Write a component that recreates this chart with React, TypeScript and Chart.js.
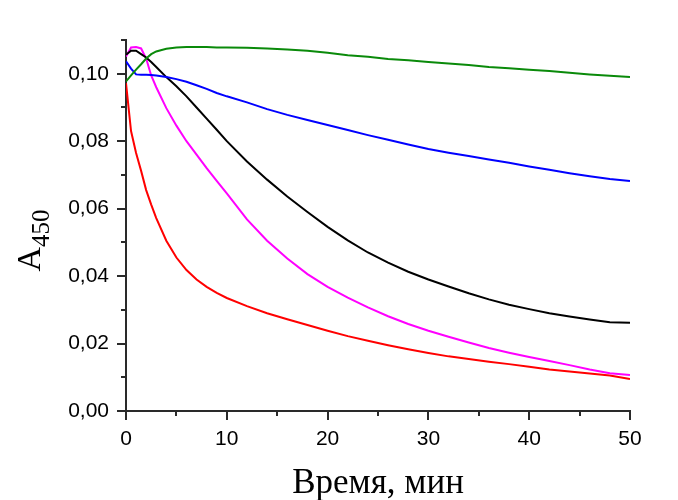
import React, { useEffect, useRef } from "react";
import { Chart, registerables } from "chart.js";

Chart.register(...registerables);

// Time points (min)
const times = [0, 0.5, 1, 1.5, 2, 2.5, 3, 4, 5, 6, 7, 8, 9, 10, 12, 14, 16, 18, 20, 22, 24, 26, 28, 30, 32, 34, 36, 38, 40, 42, 44, 46, 48, 50];

const greenValues = [0.0977, 0.0995, 0.1012, 0.1028, 0.1045, 0.1058, 0.1066, 0.1074, 0.1078, 0.1079, 0.1079, 0.1079, 0.1078, 0.1078, 0.1077, 0.1075, 0.1072, 0.1068, 0.1062, 0.1055, 0.105, 0.1044, 0.104, 0.1035, 0.103, 0.1026, 0.102, 0.1016, 0.1012, 0.1008, 0.1003, 0.0998, 0.0994, 0.099];
const blueValues = [0.1037, 0.1015, 0.0998, 0.0997, 0.0997, 0.0996, 0.0995, 0.099, 0.0984, 0.0976, 0.0966, 0.0955, 0.0943, 0.0933, 0.0915, 0.0895, 0.0878, 0.0863, 0.0848, 0.0833, 0.0818, 0.0804, 0.079, 0.0777, 0.0766, 0.0756, 0.0746, 0.0736, 0.0725, 0.0715, 0.0705, 0.0696, 0.0688, 0.0682];
const blackValues = [0.1056, 0.1068, 0.1068, 0.1058, 0.1048, 0.1035, 0.102, 0.099, 0.0963, 0.0933, 0.09, 0.0867, 0.0834, 0.08, 0.074, 0.0686, 0.0636, 0.059, 0.0546, 0.0506, 0.047, 0.044, 0.0413, 0.039, 0.0369, 0.0349, 0.0331, 0.0315, 0.0302, 0.029, 0.028, 0.0271, 0.0263, 0.0262];
const magentaValues = [0.1051, 0.1078, 0.1079, 0.1075, 0.1045, 0.0995, 0.096, 0.0898, 0.0846, 0.08, 0.076, 0.072, 0.0682, 0.0645, 0.0568, 0.0505, 0.0452, 0.0406, 0.0368, 0.0336, 0.0307, 0.0281, 0.0258, 0.0238, 0.022, 0.0203, 0.0187, 0.0173, 0.016, 0.0148, 0.0136, 0.0123, 0.0112, 0.0107];
const redValues = [0.0972, 0.083, 0.0765, 0.0712, 0.0655, 0.0612, 0.0572, 0.0505, 0.0455, 0.0418, 0.039, 0.0368, 0.035, 0.0335, 0.0311, 0.029, 0.0272, 0.0255, 0.0238, 0.0222, 0.0208, 0.0195, 0.0183, 0.0172, 0.0162, 0.0154, 0.0146, 0.0139, 0.0131, 0.0123, 0.0117, 0.0111, 0.0105, 0.0095];

const xMajorTicks = [0, 10, 20, 30, 40, 50];
const xMinorTicks = [5, 15, 25, 35, 45];
const yMajorTicks = [0, 0.02, 0.04, 0.06, 0.08, 0.1];
const yMinorTicks = [0.01, 0.03, 0.05, 0.07, 0.09, 0.11];

const xTitle = "Время, мин";
const yTitleMain = "A";
const yTitleSub = "450";

const AXIS_COLOR = "#2a2a2a";

const minorTicksPlugin = {
  id: "minorTicks",
  afterDraw(chart: any) {
    const { ctx, scales } = chart;
    const xs = scales.x;
    const ys = scales.y;
    ctx.save();
    ctx.strokeStyle = AXIS_COLOR;
    ctx.lineWidth = 2;
    ctx.beginPath();
    for (const v of xMinorTicks) {
      const px = Math.round(xs.getPixelForValue(v));
      ctx.moveTo(px, ys.bottom);
      ctx.lineTo(px, ys.bottom + 5);
    }
    for (const v of yMinorTicks) {
      const py = Math.round(ys.getPixelForValue(v));
      ctx.moveTo(xs.left, py);
      ctx.lineTo(xs.left - 5, py);
    }
    ctx.stroke();
    ctx.restore();
  },
};

const yTitlePlugin = {
  id: "yTitle",
  afterDraw(chart: any) {
    const { ctx, chartArea } = chart;
    const mainFont = '34px "Liberation Serif", "Times New Roman", serif';
    const subFont = '25px "Liberation Serif", "Times New Roman", serif';
    ctx.save();
    ctx.fillStyle = "#000";
    ctx.font = mainFont;
    const wMain = ctx.measureText(yTitleMain).width;
    ctx.font = subFont;
    const wSub = ctx.measureText(yTitleSub).width;
    const total = wMain + wSub;
    const cx = chartArea.left - 86;
    const cy = (chartArea.top + chartArea.bottom) / 2 + 15;
    ctx.translate(cx, cy);
    ctx.rotate(-Math.PI / 2);
    ctx.textBaseline = "alphabetic";
    ctx.textAlign = "left";
    ctx.font = mainFont;
    ctx.fillText(yTitleMain, -total / 2, 0);
    ctx.font = subFont;
    ctx.fillText(yTitleSub, -total / 2 + wMain, 9);
    ctx.restore();
  },
};

function toPoints(vals: number[]) {
  return times.map((t, i) => ({ x: t, y: vals[i] }));
}

export default function App() {
  const canvasRef = useRef<HTMLCanvasElement | null>(null);

  useEffect(() => {
    if (!canvasRef.current) return;
    const tickFont = { family: '"Liberation Sans", Arial, sans-serif', size: 21 };
    const lineDs = (label: string, vals: number[], color: string) => ({
      label,
      data: toPoints(vals),
      borderColor: color,
      backgroundColor: color,
      borderWidth: 2,
      pointRadius: 0,
      tension: 0,
      fill: false,
    });
    const chart = new Chart(canvasRef.current, {
      type: "line",
      data: {
        datasets: [
          lineDs("green", greenValues, "#0a8a0a"),
          lineDs("blue", blueValues, "#0000ff"),
          lineDs("black", blackValues, "#000000"),
          lineDs("magenta", magentaValues, "#ff00ff"),
          lineDs("red", redValues, "#ff0000"),
        ],
      },
      options: {
        animation: false,
        responsive: false,
        devicePixelRatio: 1,
        layout: { padding: { top: 40, right: 48, left: 0, bottom: 0 } },
        plugins: {
          legend: { display: false },
          tooltip: { enabled: false },
        },
        scales: {
          x: {
            type: "linear",
            min: 0,
            max: 50,
            afterFit(scale: any) {
              scale.height = 89;
            },
            afterBuildTicks(scale: any) {
              scale.ticks = xMajorTicks.map((v) => ({ value: v }));
            },
            ticks: {
              font: tickFont,
              color: "#000",
              padding: 7,
              maxRotation: 0,
              callback: (v: any) => String(v),
            },
            grid: {
              display: true,
              drawOnChartArea: false,
              drawTicks: true,
              tickLength: 9,
              color: AXIS_COLOR,
              lineWidth: 2,
            },
            border: { display: true, color: AXIS_COLOR, width: 2 },
            title: {
              display: true,
              text: xTitle,
              color: "#000",
              font: { family: '"Liberation Serif", "Times New Roman", serif', size: 35, lineHeight: 0.9 },
              padding: { top: 0, bottom: 0 },
            },
          },
          y: {
            type: "linear",
            min: 0,
            max: 0.11,
            afterFit(scale: any) {
              scale.width = 126;
            },
            afterBuildTicks(scale: any) {
              scale.ticks = yMajorTicks.map((v) => ({ value: v }));
            },
            ticks: {
              font: tickFont,
              color: "#000",
              padding: 8,
              callback: (v: any) => Number(v).toFixed(2).replace(".", ","),
            },
            grid: {
              display: true,
              drawOnChartArea: false,
              drawTicks: true,
              tickLength: 9,
              color: AXIS_COLOR,
              lineWidth: 2,
            },
            border: { display: true, color: AXIS_COLOR, width: 2 },
          },
        },
      },
      plugins: [minorTicksPlugin, yTitlePlugin],
    } as any);
    return () => chart.destroy();
  }, []);

  return (
    <div style={{ position: "fixed", left: 0, top: 0, width: 678, height: 500, background: "#fff" }}>
      <canvas ref={canvasRef} width={678} height={500} style={{ width: 678, height: 500, display: "block" }} />
    </div>
  );
}
